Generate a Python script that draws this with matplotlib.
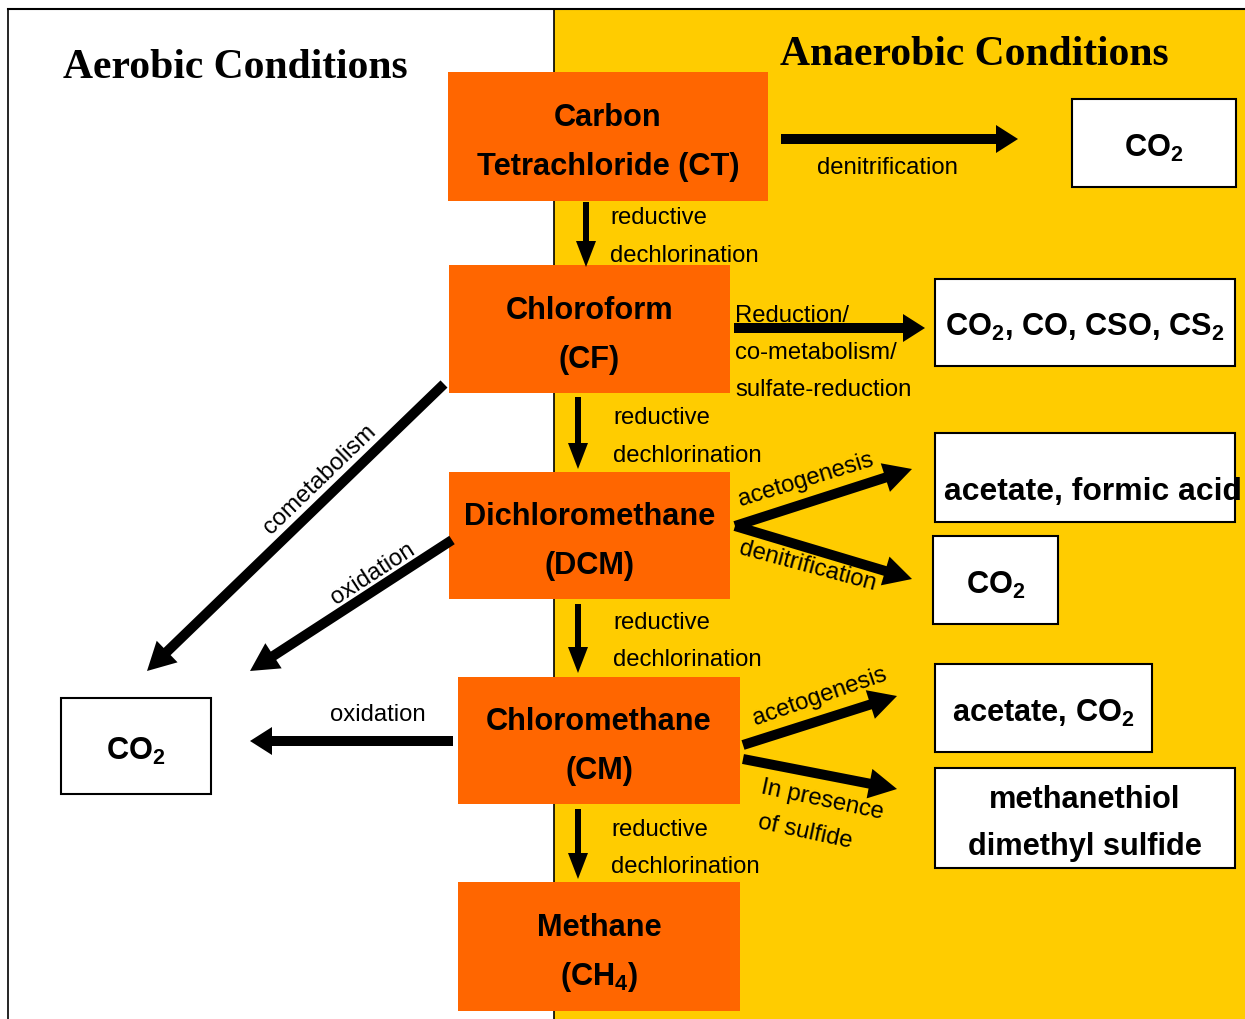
import matplotlib
matplotlib.use('Agg')
import matplotlib.pyplot as plt
from matplotlib import font_manager
from matplotlib.patches import Rectangle

installed = {f.name for f in font_manager.fontManager.ttflist}
NARROW = 'Liberation Sans Narrow' in installed
SANS = 'Liberation Sans Narrow' if NARROW else 'Liberation Sans'
SERIF = 'Liberation Serif'
k = 1.0 if NARROW else 0.82   # shrink sizes when no narrow face is around

plt.rcParams['font.family'] = [SANS, 'DejaVu Sans']
plt.rcParams['mathtext.fontset'] = 'custom'
plt.rcParams['mathtext.rm'] = SANS + ':bold'
plt.rcParams['mathtext.bf'] = SANS + ':bold'
plt.rcParams['mathtext.default'] = 'rm'

ORANGE = '#FF6600'
YELLOW = '#FFCC00'

# chlorinated methanes, top to bottom
compounds = [('Carbon', 'Tetrachloride (CT)'), ('Chloroform', '(CF)'),
             ('Dichloromethane', '(DCM)'), ('Chloromethane', '(CM)'),
             ('Methane', '(CH$_4$)')]
compound_boxes = [(448, 73, 320, 129), (449, 266, 281, 128), (449, 473, 281, 127),
                  (458, 678, 282, 127), (458, 883, 282, 129)]

# end products
products = [('CO$_2$',), ('CO$_2$, CO, CSO, CS$_2$',), ('acetate, formic acid',),
            ('CO$_2$',), ('acetate, CO$_2$',), ('methanethiol', 'dimethyl sulfide'),
            ('CO$_2$',)]
product_boxes = [(1072, 100, 164, 88), (935, 280, 300, 87), (935, 434, 300, 89),
                 (933, 537, 125, 88), (935, 665, 217, 88), (935, 769, 300, 100),
                 (61, 699, 150, 96)]

# arrows: start, end, kind
arrows = [((781, 140), (1018, 140), 'big'),
          ((734, 329), (925, 329), 'big'),
          ((453, 742), (250, 742), 'big'),
          ((586, 203), (586, 268), 'down'),
          ((578, 398), (578, 470), 'down'),
          ((578, 605), (578, 674), 'down'),
          ((578, 810), (578, 880), 'down'),
          ((444, 385), (147, 672), 'diag'),
          ((452, 541), (250, 672), 'diag'),
          ((735, 527), (912, 470), 'diag'),
          ((735, 527), (912, 580), 'diag'),
          ((743, 746), (897, 697), 'diag'),
          ((743, 760), (897, 790), 'diag')]
arrow_style = {'big': (10, 28, 22), 'down': (6, 20, 26), 'diag': (10, 30, 28)}

# process labels: text, x, y, rotation, alignment
labels = [('denitrification', 887, 168, 0, 'center'),
          ('reductive', 610, 218, 0, 'left'), ('dechlorination', 610, 256, 0, 'left'),
          ('Reduction/', 735, 316, 0, 'left'), ('co-metabolism/', 735, 353, 0, 'left'),
          ('sulfate-reduction', 735, 390, 0, 'left'),
          ('reductive', 613, 418, 0, 'left'), ('dechlorination', 613, 456, 0, 'left'),
          ('reductive', 613, 623, 0, 'left'), ('dechlorination', 613, 660, 0, 'left'),
          ('reductive', 611, 830, 0, 'left'), ('dechlorination', 611, 867, 0, 'left'),
          ('cometabolism', 320, 480, 44, 'center'),
          ('oxidation', 373, 574, 33, 'center'),
          ('oxidation', 378, 715, 0, 'center'),
          ('acetogenesis', 806, 480, 17, 'center'),
          ('denitrification', 808, 566, -15, 'center'),
          ('acetogenesis', 820, 697, 19, 'center'),
          ('In presence', 822, 800, -12, 'center'),
          ('of sulfide', 805, 832, -12, 'center')]

fig = plt.figure(figsize=(12.45, 10.2), dpi=100)
ax = fig.add_axes([0, 0, 1, 1])
ax.set_xlim(0, 1245)
ax.set_ylim(1020, 0)
ax.axis('off')

# background panels
ax.add_patch(Rectangle((554, 10), 700, 1020, facecolor=YELLOW, edgecolor='none', zorder=0))
ax.plot([8, 1245], [10, 10], color='black', lw=1.5)
ax.plot([8, 8], [10, 1020], color='black', lw=1.2)
ax.plot([554, 554], [10, 1020], color='black', lw=1.2)

ax.text(235, 68, 'Aerobic Conditions', family=SERIF, weight='bold', fontsize=30,
        ha='center', va='center')
ax.text(974, 55, 'Anaerobic Conditions', family=SERIF, weight='bold', fontsize=30,
        ha='center', va='center')

for lines, (x, y, w, h) in zip(compounds, compound_boxes):
    ax.add_patch(Rectangle((x, y), w, h, facecolor=ORANGE, edgecolor='none', zorder=2))
    cx, cy = x + w / 2, y + h / 2
    for i, line in enumerate(lines):
        ax.text(cx, cy - 19 + 49 * i, line, fontsize=27 * k, weight='bold',
                ha='center', va='center', zorder=3)

for lines, (x, y, w, h) in zip(products, product_boxes):
    ax.add_patch(Rectangle((x, y), w, h, facecolor='white', edgecolor='black',
                           lw=1.5, zorder=2))
    cx, cy = x + w / 2, y + h / 2
    if len(lines) == 1:
        if lines[0].startswith('acetate, f'):
            ax.text(x + 9, cy + 14, lines[0], fontsize=28 * k, weight='bold',
                    ha='left', va='center', zorder=3)
        else:
            ax.text(cx, cy + 4, lines[0], fontsize=27 * k, weight='bold',
                    ha='center', va='center', zorder=3)
    else:
        for i, line in enumerate(lines):
            ax.text(cx, cy - 19 + 47 * i, line, fontsize=27 * k, weight='bold',
                    ha='center', va='center', zorder=3)

for (x0, y0), (x1, y1), kind in arrows:
    wd, hw, hl = arrow_style[kind]
    ax.arrow(x0, y0, x1 - x0, y1 - y0, width=wd, head_width=hw, head_length=hl,
             length_includes_head=True, color='black', lw=0, zorder=4)

for txt, x, y, rot, ha in labels:
    ax.text(x, y, txt, fontsize=21 * k, ha=ha, va='center', rotation=rot,
            rotation_mode='anchor', zorder=5)

fig.savefig('out.png', dpi=100, facecolor='white')
